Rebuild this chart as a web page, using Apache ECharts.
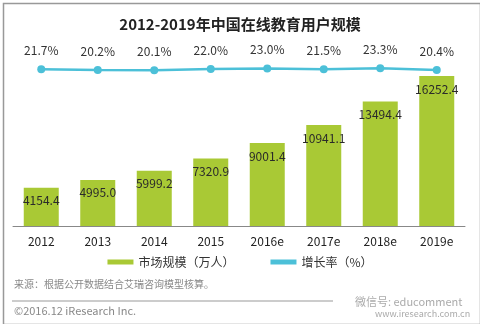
<!DOCTYPE html>
<html><head><meta charset="utf-8">
<script src="https://cdn.jsdelivr.net/npm/echarts@6/dist/echarts.min.js"></script>
<style>html,body{margin:0;padding:0;background:#fff}#c{width:480px;height:324px}</style>
</head><body><div id="c"></div>
<script>
const categories = ['2012','2013','2014','2015','2016e','2017e','2018e','2019e'];
const users = [4154.4, 4995.0, 5999.2, 7320.9, 9001.4, 10941.1, 13494.4, 16252.4];
const growth = [21.7, 20.2, 20.1, 22.0, 23.0, 21.5, 23.3, 20.4];
const F = '"Noto Sans CJK SC","Noto Sans",sans-serif';
const chart = echarts.init(document.getElementById('c'), null, {renderer:'canvas'});
chart.setOption({
  animation:false,
  backgroundColor:'#fff',
  title:{text:'2012-2019年中国在线教育用户规模',left:'center',top:12,
    textStyle:{fontFamily:F,fontSize:15,fontWeight:'bold',color:'#222'}},
  legend:{bottom:51,left:'center',itemGap:36,itemWidth:26,itemHeight:5,
    textStyle:{fontFamily:F,fontSize:12,color:'#333'},
    data:[{name:'市场规模（万人）',icon:'rect'},{name:'增长率（%）',icon:'rect'}]},
  grid:{left:13,right:15,top:60,bottom:98},
  xAxis:{type:'category',data:categories,
    axisLine:{lineStyle:{color:'#888'}},axisTick:{show:false},
    axisLabel:{fontFamily:F,fontSize:12,color:'#222',margin:9}},
  yAxis:[
    {type:'value',min:0,max:18000,show:false,splitLine:{show:false}},
    {type:'value',min:-240,max:37,show:false,splitLine:{show:false}}
  ],
  series:[
    {name:'市场规模（万人）',type:'bar',data:users,barWidth:35,
      itemStyle:{color:'#a9c935'},
      label:{show:true,position:'insideTop',distance:7,fontFamily:F,fontSize:12,color:'#2a2a2a',
        formatter:p=>p.value.toFixed(1)}},
    {name:'增长率（%）',type:'line',yAxisIndex:1,data:growth,
      symbol:'circle',symbolSize:8,
      lineStyle:{color:'#4cc0d8',width:2.5},itemStyle:{color:'#4cc0d8'},
      label:{show:true,position:'top',distance:9,fontFamily:F,fontSize:12,color:'#333',
        formatter:p=>p.value.toFixed(1)+'%'}}
  ],
  graphic:[
    {type:'rect',left:1,top:1,shape:{width:477,height:321},style:{fill:'none',stroke:'#999',lineWidth:1.5},silent:true},
    {type:'text',left:14,top:279,style:{text:'来源：根据公开数据结合艾瑞咨询模型核算。',fontFamily:F,fontSize:10,fill:'#888'}},
    {type:'line',shape:{x1:12,y1:301,x2:333,y2:301},style:{stroke:'#999',lineWidth:1}},
    {type:'text',left:14,top:305,style:{text:'©2016.12 iResearch Inc.',fontFamily:F,fontSize:11,fill:'#888'}},
    {type:'text',left:355,top:296,style:{text:'微信号: educomment',fontFamily:F,fontSize:11,fill:'#aaa'}},
    {type:'text',left:375,top:309,style:{text:'www.iresearch.com.cn',fontFamily:F,fontSize:9,fill:'#aaa'}}
  ]
});
</script></body></html>
